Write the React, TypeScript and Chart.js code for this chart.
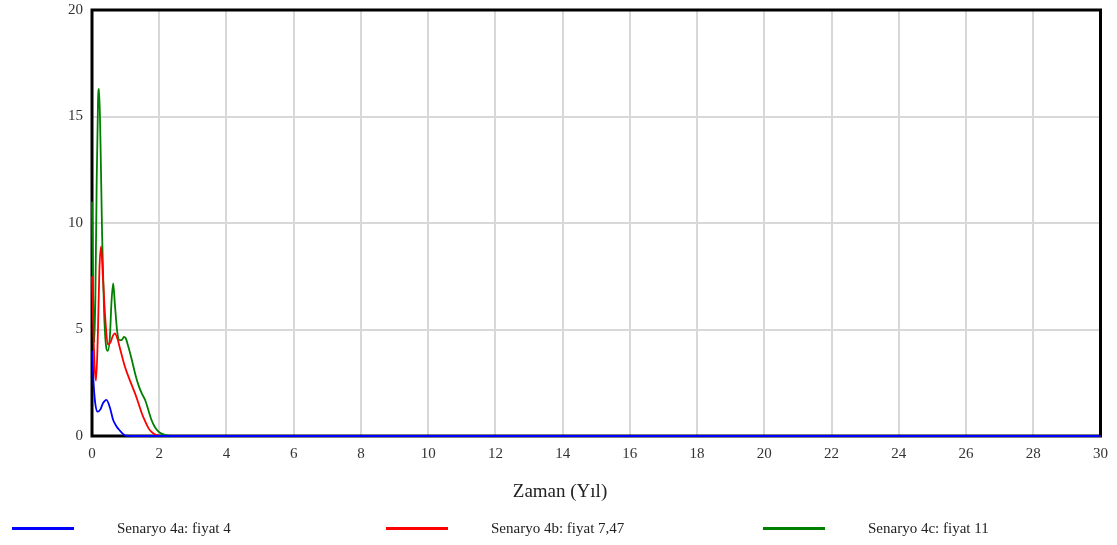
import React, { useEffect, useRef } from "react";
import { Chart, registerables } from "chart.js";

Chart.register(...registerables);

// Simulation output (years vs. value) for the three price scenarios
const seriesNames = ["Senaryo 4a: fiyat 4", "Senaryo 4b: fiyat 7,47", "Senaryo 4c: fiyat 11"];
const seriesColors = ["#0000ff", "#ff0000", "#008000"];

const blueX = [0, 0.05, 0.1, 0.17, 0.25, 0.33, 0.43, 0.53, 0.63, 0.73, 0.83, 0.92, 1.0, 1.2, 30];
const blueY = [4.0, 2.4, 1.5, 1.14, 1.25, 1.55, 1.7, 1.35, 0.75, 0.45, 0.25, 0.1, 0.02, 0, 0];

const redX = [0, 0.04, 0.08, 0.12, 0.17, 0.22, 0.27, 0.32, 0.4, 0.47, 0.55, 0.62, 0.68, 0.75, 0.85, 0.98, 1.13, 1.28, 1.38, 1.48, 1.58, 1.68, 1.78, 1.87, 1.95, 2.1, 30];
const redY = [7.5, 5.0, 3.2, 2.6, 4.5, 7.8, 8.9, 7.6, 5.4, 4.3, 4.4, 4.7, 4.82, 4.6, 4.0, 3.25, 2.6, 2.0, 1.55, 1.07, 0.7, 0.37, 0.18, 0.08, 0.03, 0, 0];

const greenX = [0, 0.03, 0.07, 0.1, 0.14, 0.18, 0.21, 0.25, 0.3, 0.36, 0.42, 0.47, 0.53, 0.58, 0.63, 0.68, 0.75, 0.82, 0.88, 0.95, 1.0, 1.08, 1.18, 1.28, 1.38, 1.48, 1.58, 1.68, 1.77, 1.87, 1.95, 2.02, 2.17, 2.35, 30];
const greenY = [11.0, 7.0, 4.4, 6.5, 12.0, 15.8, 16.3, 14.0, 9.5, 5.8, 4.2, 4.0, 4.6, 6.3, 7.17, 6.2, 4.9, 4.5, 4.5, 4.65, 4.6, 4.2, 3.6, 2.95, 2.4, 2.0, 1.69, 1.2, 0.75, 0.42, 0.25, 0.15, 0.05, 0, 0];

const xTicks = [0, 2, 4, 6, 8, 10, 12, 14, 16, 18, 20, 22, 24, 26, 28, 30];
const yTicks = [0, 5, 10, 15, 20];

const xTitle = "Zaman (Yıl)";
const serif = "'Liberation Serif', 'DejaVu Serif', serif";

const toPoints = (xs: number[], ys: number[]) => xs.map((x, i) => ({ x, y: ys[i] }));

const frame = {
  id: "frame",
  beforeDatasetsDraw(chart: any) {
    const { ctx, chartArea } = chart;
    ctx.save();
    ctx.strokeStyle = "#000";
    ctx.lineWidth = 3;
    ctx.strokeRect(chartArea.left, chartArea.top, chartArea.right - chartArea.left, chartArea.bottom - chartArea.top);
    ctx.restore();
  },
};

export default function App() {
  const ref = useRef<HTMLCanvasElement | null>(null);

  useEffect(() => {
    document.body.style.margin = "0";
    const canvas = ref.current;
    if (!canvas) return;
    const pts = [toPoints(blueX, blueY), toPoints(redX, redY), toPoints(greenX, greenY)];
    const chart = new Chart(canvas, {
      type: "line",
      data: {
        datasets: pts.map((data, i) => ({
          label: seriesNames[i],
          data,
          borderColor: seriesColors[i],
          borderWidth: 1.8,
          pointRadius: 0,
          fill: false,
          clip: 4,
          cubicInterpolationMode: "monotone" as const,
        })),
      },
      options: {
        animation: false,
        responsive: false,
        maintainAspectRatio: false,
        layout: { padding: { left: 0, right: 14, top: 0, bottom: 73 } },
        plugins: { legend: { display: false }, tooltip: { enabled: false } },
        scales: {
          x: {
            type: "linear",
            min: 0,
            max: 30,
            afterBuildTicks: (axis: any) => {
              axis.ticks = xTicks.map((v) => ({ value: v }));
            },
            grid: { color: "#d8d8d8", lineWidth: 2, drawTicks: false },
            border: { display: false },
            ticks: { color: "#333", font: { family: serif, size: 15 }, padding: 9, maxRotation: 0 },
          },
          y: {
            min: 0,
            max: 20,
            afterBuildTicks: (axis: any) => {
              axis.ticks = yTicks.map((v) => ({ value: v }));
            },
            afterFit: (axis: any) => {
              axis.width = 92;
            },
            grid: { color: "#d8d8d8", lineWidth: 2, drawTicks: false },
            border: { display: false },
            ticks: { color: "#333", font: { family: serif, size: 15 }, padding: 9 },
          },
        },
      },
      plugins: [frame],
    });
    return () => chart.destroy();
  }, []);

  const legendLeft = [12, 386, 763];

  return (
    <div style={{ position: "relative", width: 1117, height: 545, overflow: "hidden" }}>
      <canvas ref={ref} width={1117} height={553} style={{ display: "block", position: "absolute", left: 0, top: -8 }} />
      <div style={{ position: "absolute", left: 460, width: 200, top: 480, textAlign: "center", fontFamily: serif, fontSize: 19, color: "#222" }}>
        {xTitle}
      </div>
      {seriesNames.map((name, i) => (
        <div key={name} style={{ position: "absolute", left: legendLeft[i], top: 518, height: 20, display: "flex", alignItems: "center" }}>
          <div style={{ width: 62, height: 3, background: seriesColors[i] }} />
          <span style={{ marginLeft: 43, fontFamily: serif, fontSize: 15, color: "#222", whiteSpace: "nowrap" }}>{name}</span>
        </div>
      ))}
    </div>
  );
}
